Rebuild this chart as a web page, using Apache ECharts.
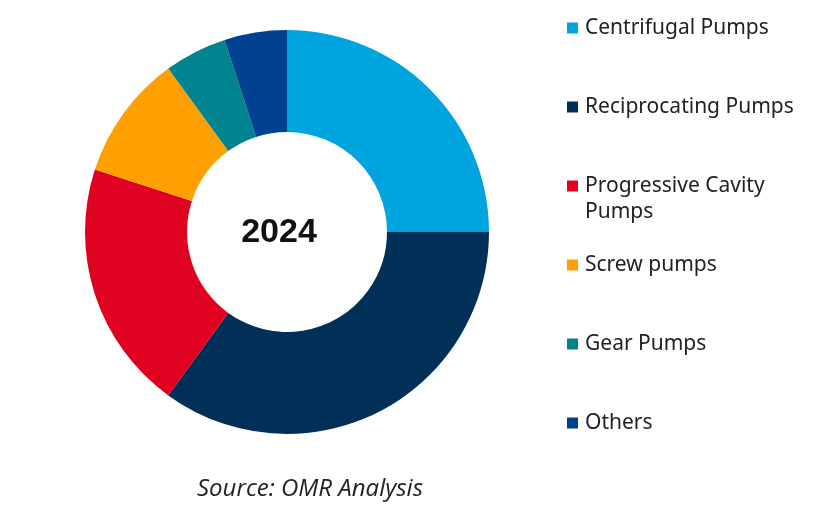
<!DOCTYPE html>
<html>
<head>
<meta charset="utf-8">
<script src="https://cdn.jsdelivr.net/npm/echarts@6/dist/echarts.min.js"></script>
<style>html,body{margin:0;padding:0;background:#fff}#c{width:827px;height:529px}</style>
</head>
<body>
<div id="c"></div>
<script>
const categories = ['Centrifugal Pumps', 'Reciprocating Pumps', 'Progressive Cavity Pumps', 'Screw pumps', 'Gear Pumps', 'Others'];
const legendLabels = ['Centrifugal Pumps', 'Reciprocating Pumps', ' \nProgressive Cavity\nPumps', 'Screw pumps', 'Gear Pumps', 'Others'];
const shares = [25, 35, 20, 10, 5, 5];
const colors = ['#00A5E0', '#003057', '#E0001F', '#FFA000', '#00848F', '#00428F'];
const centerLabel = '2024';
const sourceText = 'Source: OMR Analysis';

const legendCenters = [26, 105, 184, 263, 342, 421];
const legendFont = 'Noto Sans';

const legends = categories.map((name, i) => {
  const multi = legendLabels[i].indexOf('\n') >= 0;
  return {
    orient: 'vertical',
    left: 567,
    top: multi ? legendCenters[i] - 37 : legendCenters[i] - 11,
    padding: 0,
    itemWidth: 11,
    itemHeight: 11,
    itemGap: 0,
    icon: 'rect',
    data: [name],
    formatter: () => legendLabels[i],
    selectedMode: false,
    textStyle: {
      fontFamily: legendFont,
      fontSize: 21,
      color: '#222',
      lineHeight: 26,
      padding: [0, 0, 0, 2]
    }
  };
});

const chart = echarts.init(document.getElementById('c'), null, { renderer: 'canvas' });
chart.setOption({
  animation: false,
  color: colors,
  title: [
    {
      text: centerLabel,
      left: 274, top: 228,
      textAlign: 'center', textVerticalAlign: 'middle',
      textStyle: { fontFamily: 'Liberation Sans', fontWeight: 'bold', fontSize: 34, color: '#111' }
    },
    {
      text: sourceText,
      left: 305, top: 484,
      textAlign: 'center', textVerticalAlign: 'middle',
      textStyle: { fontFamily: 'Open Sans', fontStyle: 'italic', fontWeight: 'normal', fontSize: 24, color: '#222' }
    }
  ],
  legend: legends,
  series: [{
    type: 'pie',
    center: [287, 232],
    radius: [100, 202],
    startAngle: 90,
    clockwise: true,
    label: { show: false },
    labelLine: { show: false },
    emphasis: { disabled: true },
    itemStyle: { borderWidth: 0 },
    data: categories.map((n, i) => ({ name: n, value: shares[i] }))
  }]
});
</script>
</body>
</html>
